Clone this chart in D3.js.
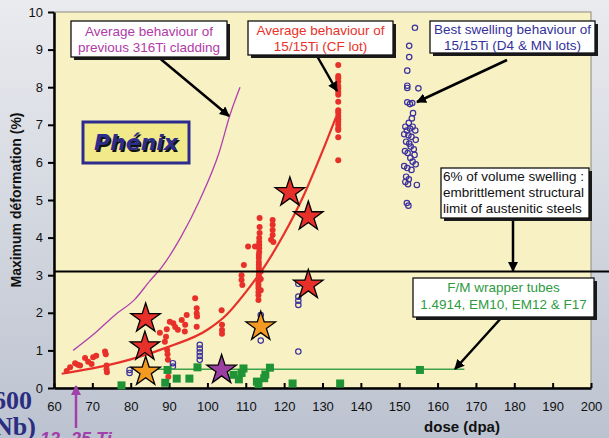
<!DOCTYPE html>
<html>
<head>
<meta charset="utf-8">
<script src="https://cdn.jsdelivr.net/npm/d3@7"></script>
<style>
  html, body { margin: 0; padding: 0; overflow: hidden; }
  svg { display: block; font-family: "Liberation Sans", Arial, sans-serif; }
</style>
</head>
<body>
<div id="chart"></div>
<script>
// x ticks (dose, dpa) and y ticks (deformation, %)
var xTicks = [60, 70, 80, 90, 100, 110, 120, 130, 140, 150, 160, 170, 180, 190, 200];
var yTicks = [0, 1, 2, 3, 4, 5, 6, 7, 8, 9, 10];

// 15/15Ti CF lot measurements [dose, deformation]
var cfLot = [
  [63.3,0.45],[64.2,0.55],[65.5,0.66],[66.2,0.62],[66.8,0.6],[68.1,0.8],[68.9,0.7],[70.2,0.82],
  [71,0.86],[69.8,0.64],[73.3,0.97],[73.5,0.9],[73.7,0.6],[73.7,0.5],[73.8,0.42],
  [87.6,1.47],[89.4,1.56],[90.2,1.76],[91.1,1.72],[89.2,1.36],[88.9,1.23],[89.5,1.01],[89.6,0.9],
  [89.7,0.75],[89.8,0.3],[91.6,1.62],[92.3,1.55],[93.3,1.81],[94.2,1.68],[94.1,1.5],[94.6,1.94],
  [96.8,2.39],[97.2,2.12],[97.2,1.99],[97.3,1.9],[97.2,1.63],[103.7,2.07],[103.8,1.68],[103.8,1.54],
  [103.8,1.44],[108.9,3.0],[108.9,2.87],[109.1,2.74],[109.5,3.27],[110.6,3.76],[112.4,3.76],
  [113.6,4.52],[113.6,4.28],[113.6,4.12],[113.5,3.99],[113.5,3.88],[113.5,3.8],[113.5,3.72],
  [113.5,3.62],[113.4,3.54],[113.4,3.46],[113.4,3.35],[113.4,3.27],[113.4,3.19],[113.4,3.09],
  [113.4,3.0],[113.4,2.93],[113.3,2.82],[113.3,2.74],[113.3,2.66],[113.3,2.55],[113.3,2.47],
  [113.3,2.34],[113.9,3.1],[113.9,2.9],[113.9,2.6],[117,4.47],[117,4.34],[117,4.2],[117,4.07],
  [116.6,3.94],[117.2,3.88],
  [134.1,8.59],[134.1,8.30],[134.1,8.24],[134.1,8.15],[134.1,8.03],[134.1,7.97],[134.1,7.88],
  [134.1,7.80],[134.1,7.61],[134.1,7.39],[134.1,7.32],[134.1,7.23],[134.1,7.15],[134.1,7.08],
  [134.1,7.0],[134.1,6.91],[134.1,6.86],[134.1,6.67],[134.1,6.06]
];

// 15/15Ti D4 & MN lots (open circles)
var d4mnLots = [
  [154.1,9.58],[152.6,9.10],[152.6,8.80],[152.1,8.44],[152.1,8.04],[152.1,7.98],[155.0,7.97],
  [152.1,7.6],[152.8,7.55],[153.4,7.58],[153.6,7.31],[153.3,7.17],[152.5,7.05],[151.6,6.95],
  [152.0,6.85],[152.8,6.9],[153.5,6.95],[154.2,6.85],[151.3,6.75],[152.4,6.72],[153.2,6.68],
  [154.3,6.6],[151.8,6.55],[152.6,6.5],[153.0,6.42],[153.8,6.35],[151.5,6.3],[152.2,6.25],
  [154.0,6.2],[152.9,6.12],[153.5,6.02],[154.3,5.95],[151.3,5.9],[152.1,5.85],[153.2,5.8],
  [151.8,5.62],[152.5,5.55],[151.6,5.48],[152.3,5.42],[154.6,5.4],[152.0,4.92],[152.4,4.85],
  [79.7,0.48],[79.7,0.4],[91,0.66],[91,0.57],[98,1.15],[98,1.05],[98,0.95],[98,0.85],[98,0.75],
  [113.9,1.94],[113.9,1.26],[123.7,2.77],[123.7,2.43],[123.7,2.32],[123.7,2.21],[123.7,0.97],[122,5.25]
];

// F/M wrapper tubes (green squares)
var fmTubes = [
  [77.6,0.07],[89,0.14],[89.6,0.48],[92,0.25],[95.3,0.25],[97.4,0.55],[106.8,0.35],[108.2,0.23],
  [108.9,0.4],[109.4,0.52],[112.9,0.17],[113.3,0.1],[114.8,0.26],[115.1,0.36],[116.3,0.54],
  [122.2,0.12],[134.6,0.12],[155.4,0.48]
];
var fmLine = [[86,0.5],[167,0.5]];

// average curves
var cfCurve = [[62,0.38],[70,0.52],[80,0.76],[90,1.1],[100,1.55],[105,1.95],[110,2.55],
  [115,3.25],[120,4.1],[125,5.1],[130,6.3],[133.5,7.2]];
var ti316Curve = [[65,1.0],[70,1.4],[76,1.95],[81,2.35],[85,2.85],[88,3.2],[93,4.0],
  [98,5.0],[103,6.25],[106,7.3],[108.5,8.0]];

// star markers [dose, deformation, colour]
var stars = [
  [83.9,1.85,"#e8302a"],[83.7,1.1,"#e8302a"],[83.9,0.43,"#f39a22"],[103.7,0.48,"#9b3fa3"],
  [113.9,1.63,"#f39a22"],[121.5,5.2,"#e8302a"],[126.3,4.56,"#e8302a"],[126.3,2.74,"#e8302a"]
];

var limitLevel = 3.1;

var W = 609, H = 438;
var svg = d3.select("#chart").append("svg").attr("width", W).attr("height", H);

var defs = svg.append("defs");
var bg = defs.append("linearGradient").attr("id", "bg").attr("x1", 0).attr("y1", 0).attr("x2", 0).attr("y2", 1);
bg.append("stop").attr("offset", "0%").attr("stop-color", "#eaebef");
bg.append("stop").attr("offset", "100%").attr("stop-color", "#bcc3d0");
defs.append("marker").attr("id", "arr").attr("viewBox", "0 0 10 10").attr("refX", 9).attr("refY", 5)
  .attr("markerWidth", 4).attr("markerHeight", 4).attr("orient", "auto")
  .append("path").attr("d", "M0,0L10,5L0,10z").attr("fill", "#000");
defs.append("marker").attr("id", "arrP").attr("viewBox", "0 0 10 10").attr("refX", 9).attr("refY", 5)
  .attr("markerWidth", 4).attr("markerHeight", 4).attr("orient", "auto")
  .append("path").attr("d", "M0,0L10,5L0,10z").attr("fill", "#a040a8");

svg.append("rect").attr("width", W).attr("height", H).attr("fill", "url(#bg)");

var x = d3.scaleLinear().domain([60, 200]).range([54, 591]);
var y = d3.scaleLinear().domain([0, 10]).range([388, 12]);

// plot area
svg.append("rect").attr("x", x(60)).attr("y", y(10)).attr("width", x(200) - x(60)).attr("height", y(0) - y(10))
  .attr("fill", "#f8f1c3").attr("stroke", "#8a8a80").attr("stroke-width", 1);

// axes
var gx = svg.append("g").attr("transform", "translate(0," + y(0) + ")")
  .call(d3.axisBottom(x).tickValues(xTicks).tickSizeInner(-5).tickSizeOuter(0).tickPadding(14));
var gy = svg.append("g").attr("transform", "translate(" + x(60) + ",0)")
  .call(d3.axisLeft(y).tickValues(yTicks).tickSizeInner(6).tickSizeOuter(0).tickPadding(5));
[gx, gy].forEach(function (g) {
  g.select(".domain").attr("stroke", "#000").attr("stroke-width", 2.5);
  g.selectAll(".tick line").attr("stroke", "#000").attr("stroke-width", 2);
  g.selectAll(".tick text").attr("font-size", 13).attr("fill", "#111")
    .attr("font-family", "Liberation Sans, Arial, sans-serif");
});

svg.append("text").attr("transform", "translate(21,200) rotate(-90)").attr("text-anchor", "middle")
  .attr("font-size", 14).attr("font-weight", "bold").attr("fill", "#111").text("Maximum déformation (%)");
svg.append("text").attr("x", 462).attr("y", 432).attr("text-anchor", "middle")
  .attr("font-size", 15).attr("font-weight", "bold").attr("fill", "#111").text("dose (dpa)");

var line = d3.line().x(function (d) { return x(d[0]); }).y(function (d) { return y(d[1]); });
var curve = d3.line().curve(d3.curveMonotoneX).x(function (d) { return x(d[0]); }).y(function (d) { return y(d[1]); });

// data points
svg.append("g").selectAll("circle").data(cfLot).enter().append("circle")
  .attr("cx", function (d) { return x(d[0]); }).attr("cy", function (d) { return y(d[1]); })
  .attr("r", 3).attr("fill", "#e8302a");

svg.append("g").selectAll("circle").data(d4mnLots).enter().append("circle")
  .attr("cx", function (d) { return x(d[0]); }).attr("cy", function (d) { return y(d[1]); })
  .attr("r", 2.7).attr("fill", "none").attr("stroke", "#3b319e").attr("stroke-width", 1.2);

svg.append("path").attr("d", line(fmLine)).attr("stroke", "#3fa24a").attr("stroke-width", 1.5).attr("fill", "none");
svg.append("g").selectAll("rect").data(fmTubes).enter().append("rect")
  .attr("x", function (d) { return x(d[0]) - 4; }).attr("y", function (d) { return y(d[1]) - 4; })
  .attr("width", 8).attr("height", 8).attr("fill", "#1f9436");

svg.append("path").attr("d", curve(cfCurve)).attr("stroke", "#e8302a").attr("stroke-width", 2.2).attr("fill", "none");
svg.append("path").attr("d", curve(ti316Curve)).attr("stroke", "#b040b0").attr("stroke-width", 1.3).attr("fill", "none");

// 6% volume swelling limit line
svg.append("line").attr("x1", x(60)).attr("x2", W).attr("y1", y(limitLevel)).attr("y2", y(limitLevel))
  .attr("stroke", "#000").attr("stroke-width", 2);

// stars
var starShape = d3.symbol().type(d3.symbolStar).size(270);
svg.append("g").selectAll("path").data(stars).enter().append("path")
  .attr("d", starShape)
  .attr("transform", function (d) { return "translate(" + x(d[0]) + "," + y(d[1]) + ")"; })
  .attr("fill", function (d) { return d[2]; }).attr("stroke", "#000").attr("stroke-width", 1.3);

// Phénix label
svg.append("rect").attr("x", 83).attr("y", 122).attr("width", 106).attr("height", 41)
  .attr("fill", "#f2e98a").attr("stroke", "#2d2c8c").attr("stroke-width", 3);
svg.append("text").attr("x", 137.5).attr("y", 151.5).attr("text-anchor", "middle").attr("font-size", 22)
  .attr("font-weight", "bold").attr("font-style", "italic").attr("font-family", "DejaVu Sans, sans-serif")
  .attr("fill", "#111").text("Phénix");
svg.append("text").attr("x", 136).attr("y", 150).attr("text-anchor", "middle").attr("font-size", 22)
  .attr("font-weight", "bold").attr("font-style", "italic").attr("font-family", "DejaVu Sans, sans-serif")
  .attr("fill", "#2d2c8c").text("Phénix");

// annotation boxes
function box(x0, y0, w, h, lines, color, anchor) {
  svg.append("rect").attr("x", x0 + 3).attr("y", y0 + 3).attr("width", w).attr("height", h).attr("fill", "#1a1a1a");
  svg.append("rect").attr("x", x0).attr("y", y0).attr("width", w).attr("height", h)
    .attr("fill", "#fff").attr("stroke", "#111").attr("stroke-width", 1.3);
  lines.forEach(function (l) {
    svg.append("text").attr("x", anchor === "start" ? x0 + 2 : x0 + w / 2).attr("y", l[1])
      .attr("text-anchor", anchor || "middle").attr("font-size", 13.5).attr("fill", color).text(l[0]);
  });
}
function arrow(x1, y1, x2, y2, marker, color, width) {
  svg.append("line").attr("x1", x1).attr("y1", y1).attr("x2", x2).attr("y2", y2)
    .attr("stroke", color || "#000").attr("stroke-width", width || 2.5).attr("marker-end", "url(#" + (marker || "arr") + ")");
}

arrow(157, 56, 229, 116);
box(71, 21, 156, 36, [["Average behaviour of", 36], ["previous 316Ti cladding", 52]], "#b03aa8");
arrow(317, 56, 337, 91);
box(248, 21, 145, 34, [["Average behaviour of", 35], ["15/15Ti (CF lot)", 51]], "#e8322a");
arrow(507, 60, 417, 102);
box(430, 21, 165, 32, [["Best swelling behaviour of", 34], ["15/15Ti (D4 & MN lots)", 50]], "#34309a");
arrow(513, 219, 513, 271);
box(441, 168, 148, 50, [["6% of volume swelling :", 181], ["embrittlement structural", 197], ["limit of austenitic steels", 213]], "#111", "start");
arrow(503, 316, 455, 369);
box(413, 278, 181, 39, [["F/M wrapper tubes", 292], ["1.4914, EM10, EM12 & F17", 309]], "#2f9a3f");

// fragments of the surrounding slide
svg.append("text").attr("x", 32).attr("y", 409).attr("text-anchor", "end").attr("font-size", 26)
  .attr("font-weight", "bold").attr("font-family", "Liberation Serif, serif").attr("fill", "#2b2e80").text("600");
svg.append("text").attr("x", 36).attr("y", 435).attr("text-anchor", "end").attr("font-size", 26)
  .attr("font-weight", "bold").attr("font-family", "Liberation Serif, serif").attr("fill", "#2b2e80").text("Nb)");
svg.append("text").attr("x", 40).attr("y", 445).attr("font-size", 18).attr("font-weight", "bold")
  .attr("font-style", "italic").attr("fill", "#a040a8").text("12- 25 Ti");
arrow(76, 428, 76, 386, "arrP", "#a040a8", 2.5);
</script>
</body>
</html>
